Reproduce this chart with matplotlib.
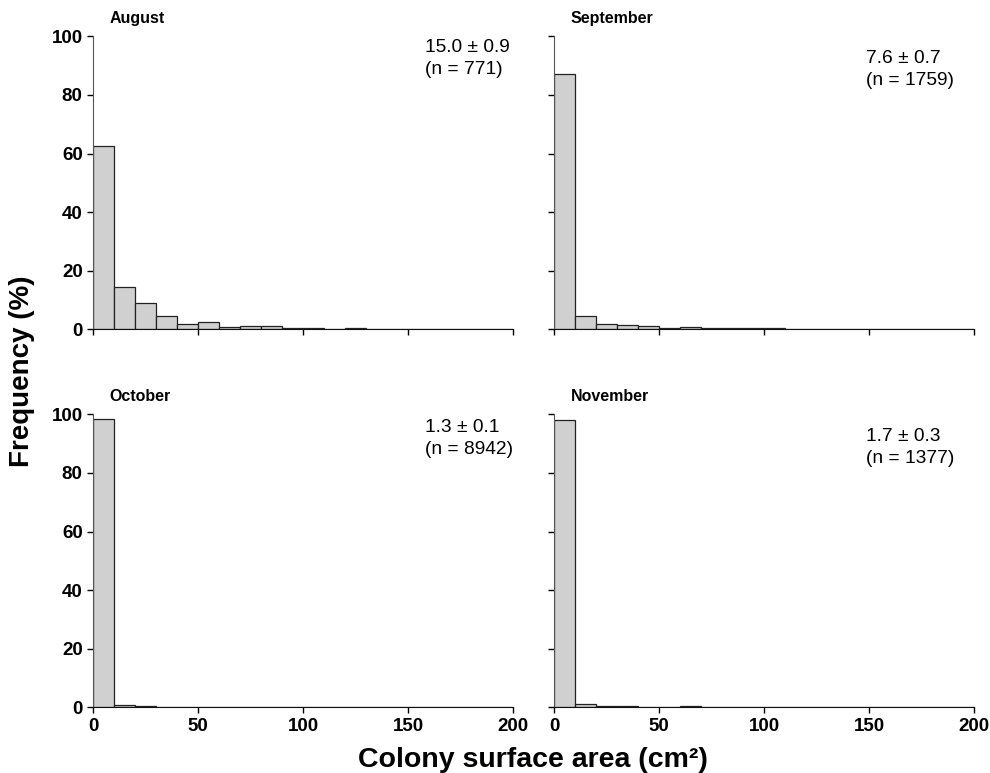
import matplotlib.pyplot as plt
import numpy as np

plt.rcParams['font.family'] = ['Liberation Sans', 'DejaVu Sans']

bin_edges = np.arange(0, 200, 10)
months = ['August', 'September', 'October', 'November']
stats = ['15.0 \u00b1 0.9\n(n = 771)', '7.6 \u00b1 0.7\n(n = 1759)',
         '1.3 \u00b1 0.1\n(n = 8942)', '1.7 \u00b1 0.3\n(n = 1377)']

august = [62.5, 14.4, 8.9, 4.4, 1.9, 2.4, 0.7, 1.0, 1.2, 0.6,
          0.3, 0, 0.4, 0, 0, 0.2, 0, 0.2, 0, 0]
september = [87.0, 4.4, 1.8, 1.4, 1.0, 0.6, 0.7, 0.5, 0.4, 0.3,
             0.4, 0.2, 0, 0, 0, 0.2, 0, 0, 0, 0]
october = [98.5, 0.8, 0.3, 0.2, 0.1, 0, 0, 0, 0, 0,
           0, 0, 0, 0, 0, 0, 0, 0, 0, 0]
november = [98.0, 1.2, 0.3, 0.3, 0, 0, 0.3, 0, 0, 0,
            0, 0, 0, 0, 0, 0, 0, 0, 0, 0]
freqs = [august, september, october, november]

fig = plt.figure(figsize=(9.9, 7.73), dpi=100)
positions = [(0.094, 0.574), (0.5596, 0.574), (0.094, 0.085), (0.5596, 0.085)]
stat_pos = [(0.79, 0.99), (0.743, 0.955), (0.79, 0.985), (0.743, 0.955)]

for i, (month, freq) in enumerate(zip(months, freqs)):
    ax = fig.add_axes([positions[i][0], positions[i][1], 0.4242, 0.379])
    ax.bar(bin_edges, freq, width=10, align='edge', color='#d0d0d0',
           edgecolor='#222222', linewidth=0.9)
    ax.set_xlim(0, 200)
    ax.set_ylim(0, 100)
    ax.set_xticks([0, 50, 100, 150, 200])
    ax.set_yticks([0, 20, 40, 60, 80, 100])
    ax.spines['top'].set_visible(False)
    ax.spines['right'].set_visible(False)
    ax.spines['left'].set_color('#555555')
    ax.spines['bottom'].set_color('#111111')
    ax.tick_params(direction='out', length=4, width=1, labelsize=13.5)
    for lab in ax.get_xticklabels() + ax.get_yticklabels():
        lab.set_fontweight('bold')
    if i % 2 == 1:
        ax.tick_params(axis='y', labelleft=False)
    if i < 2:
        ax.tick_params(axis='x', labelbottom=False)
    ax.text(0.04, 1.06, month, transform=ax.transAxes, fontsize=11.5,
            fontweight='bold', va='center', ha='left')
    ax.text(stat_pos[i][0], stat_pos[i][1], stats[i], transform=ax.transAxes,
            fontsize=13.8, va='top', ha='left', linespacing=1.4)

fig.text(0.022, 0.52, 'Frequency (%)', rotation=90, fontsize=20,
         fontweight='bold', ha='center', va='center')
fig.text(0.538, 0.017, 'Colony surface area (cm\u00b2)', fontsize=20.5,
         fontweight='bold', ha='center', va='center')

plt.savefig('out.png', dpi=100)
